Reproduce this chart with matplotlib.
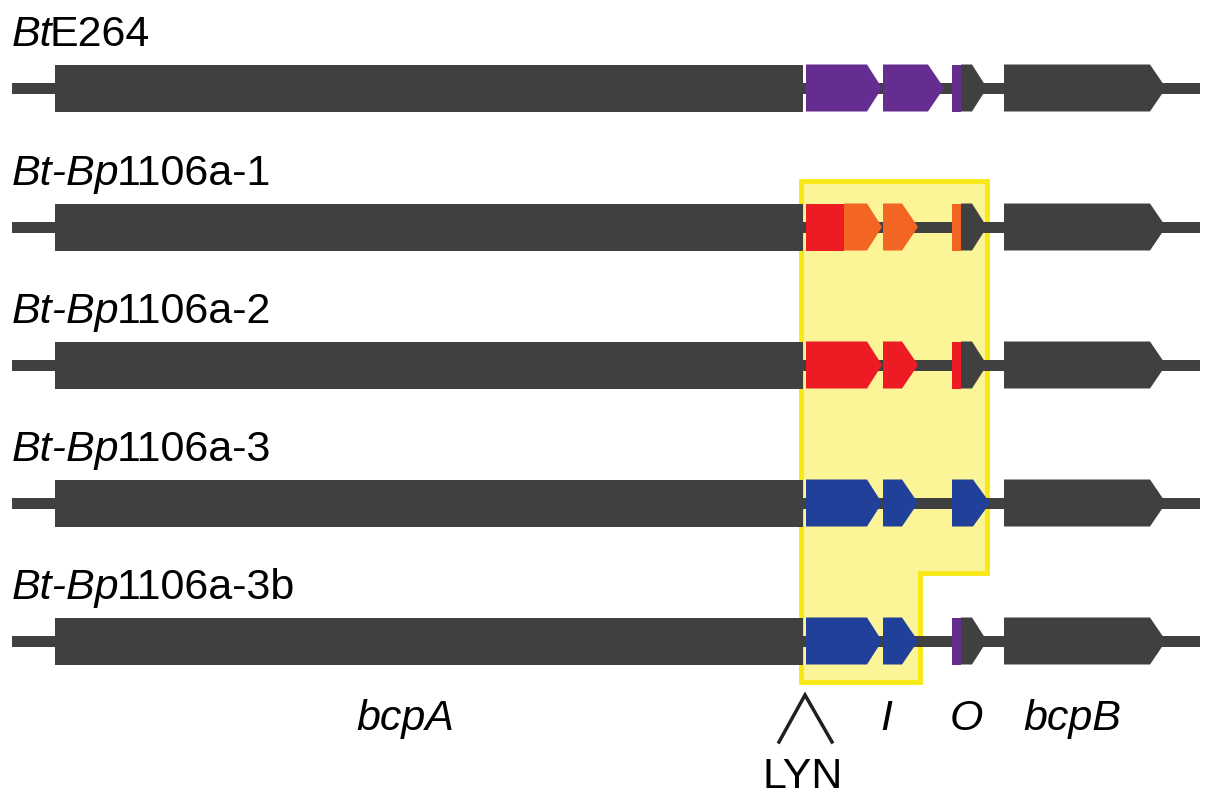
import matplotlib.pyplot as plt
from matplotlib.patches import Polygon, Rectangle

plt.rcParams['font.family'] = ['Liberation Sans', 'DejaVu Sans']

DARK = '#404041'
PURPLE = '#662d91'
RED = '#ed1c24'
ORANGE = '#f26522'
BLUE = '#21409a'

row_names = [('Bt', 'E264'), ('Bt-Bp', '1106a-1'), ('Bt-Bp', '1106a-2'),
             ('Bt-Bp', '1106a-3'), ('Bt-Bp', '1106a-3b')]
row_y = [88, 227, 365, 503, 641]

# gene segments: (start, head start, end, colour); head start == end means no arrow
bcpA = (55, 803, 803, DARK)
bcpB = (1004, 1150, 1166, DARK)
rows = [
    [(806, 867, 882, PURPLE), (883, 928, 944, PURPLE), (952, 961, 961, PURPLE), (961, 972, 987, DARK)],
    [(806, 844, 844, RED), (844, 867, 882, ORANGE), (883, 902, 918, ORANGE), (952, 961, 961, ORANGE), (961, 972, 987, DARK)],
    [(806, 867, 882, RED), (883, 902, 918, RED), (952, 961, 961, RED), (961, 972, 987, DARK)],
    [(806, 867, 882, BLUE), (883, 902, 918, BLUE), (952, 973, 990, BLUE)],
    [(806, 867, 882, BLUE), (883, 902, 918, BLUE), (952, 961, 961, PURPLE), (961, 972, 987, DARK)],
]

fig = plt.figure(figsize=(12.12, 8), dpi=100)
ax = fig.add_axes([0, 0, 1, 1])
ax.set_xlim(0, 1212)
ax.set_ylim(800, 0)
ax.axis('off')

# yellow highlight
hl = [(801, 181), (987, 181), (987, 573), (920, 573), (920, 682), (801, 682)]
ax.add_patch(Polygon(hl, closed=True, facecolor='#fbf598', edgecolor='#f7e816', lw=3.5, zorder=1))

FS = 31
H = 23.5
fig.canvas.draw()
for y, genes, (it, rest) in zip(row_y, rows, row_names):
    ax.add_patch(Rectangle((12, y - 5.5), 1188, 11, color=DARK, lw=0, zorder=2))
    for s, h, e, c in [bcpA] + genes + [bcpB]:
        pts = [(s, y - H), (h, y - H), (e, y), (h, y + H), (s, y + H)]
        ax.add_patch(Polygon(pts, closed=True, facecolor=c, edgecolor='none', zorder=3))
    t = ax.text(12, y - 42, it, fontsize=FS, style='italic', va='baseline', ha='left')
    bb = t.get_window_extent(renderer=fig.canvas.get_renderer())
    ax.text(12 + bb.width - 3, y - 42, rest, fontsize=FS, va='baseline', ha='left')

ax.text(405, 730, 'bcpA', fontsize=FS, style='italic', ha='center', va='baseline')
ax.text(886, 730, 'I', fontsize=FS, style='italic', ha='center', va='baseline')
ax.text(966, 730, 'O', fontsize=FS, style='italic', ha='center', va='baseline')
ax.text(1072, 730, 'bcpB', fontsize=FS, style='italic', ha='center', va='baseline')
ax.plot([779, 805, 832], [742, 695, 742], color='#231f20', lw=2.5, solid_joinstyle='miter')
ax.text(803, 788, 'LYN', fontsize=FS, ha='center', va='baseline')

fig.savefig('out.png', dpi=100)
